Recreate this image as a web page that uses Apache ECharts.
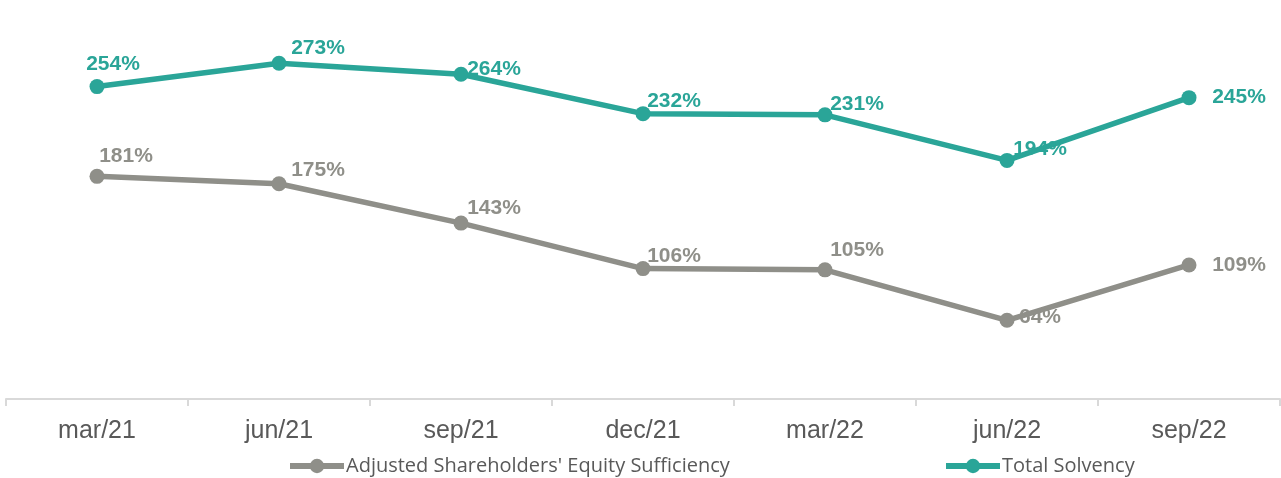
<!DOCTYPE html>
<html>
<head>
<meta charset="utf-8">
<script src="https://cdn.jsdelivr.net/npm/echarts@6/dist/echarts.min.js"></script>
<style>
  html, body { margin: 0; padding: 0; background: #fff; }
  #chart { width: 1281px; height: 478px; }
</style>
</head>
<body>
<div id="chart"></div>
<script>
const categories = ['mar/21', 'jun/21', 'sep/21', 'dec/21', 'mar/22', 'jun/22', 'sep/22'];
const equitySufficiency = [181, 175, 143, 106, 105, 64, 109];
const totalSolvency = [254, 273, 264, 232, 231, 194, 245];

// label offsets (px) from each point
const solvencyOffsets = [[16, -22], [39, -15], [33, -5], [31, -12], [32, -11], [33, -11], [50, 0]];
const equityOffsets = [[29, -20], [39, -14], [33, -15], [31, -12], [32, -20], [33, -3], [50, 0]];

const GRAY = '#8f8f89';
const TEAL = '#2aa598';

function withLabels(values, offsets, color) {
  return values.map((v, i) => ({
    value: v,
    label: {
      show: true,
      position: 'inside',
      offset: offsets[i],
      formatter: '{c}%',
      color: color,
      fontFamily: 'Liberation Sans, Arial, sans-serif',
      fontWeight: 'bold',
      fontSize: 21,
    },
  }));
}

const legendBase = {
  top: 456,
  padding: 0,
  itemWidth: 54,
  itemHeight: 18,
  itemGap: 4,
  lineStyle: { width: 6 },
  textStyle: { color: '#595959', fontFamily: 'Open Sans', fontSize: 20, padding: [0, 0, 0, -3] },
};

const chart = echarts.init(document.getElementById('chart'));

chart.setOption({
  animation: false,
  grid: { left: 6, right: 1, top: 30, bottom: 79 },
  legend: [
    Object.assign({ data: ['Adjusted Shareholders\' Equity Sufficiency'], left: 287 }, legendBase),
    Object.assign({ data: ['Total Solvency'], left: 943 }, legendBase),
  ],
  xAxis: {
    type: 'category',
    data: categories,
    boundaryGap: true,
    axisLine: { lineStyle: { color: '#d9d9d9', width: 2 } },
    axisTick: { show: true, length: 7, lineStyle: { color: '#d9d9d9', width: 2 } },
    axisLabel: {
      color: '#595959',
      fontFamily: 'Liberation Sans, Arial, sans-serif',
      fontSize: 25,
      margin: 20,
    },
  },
  yAxis: {
    type: 'value',
    min: 0,
    max: 300,
    show: false,
    splitLine: { show: false },
  },
  series: [
    {
      name: 'Adjusted Shareholders\' Equity Sufficiency',
      type: 'line',
      data: withLabels(equitySufficiency, equityOffsets, GRAY),
      symbol: 'circle',
      symbolSize: 15,
      lineStyle: { color: GRAY, width: 5.5 },
      itemStyle: { color: GRAY },
    },
    {
      name: 'Total Solvency',
      type: 'line',
      data: withLabels(totalSolvency, solvencyOffsets, TEAL),
      symbol: 'circle',
      symbolSize: 15,
      lineStyle: { color: TEAL, width: 5.5 },
      itemStyle: { color: TEAL },
      z: 3,
    },
  ],
});
</script>
</body>
</html>
